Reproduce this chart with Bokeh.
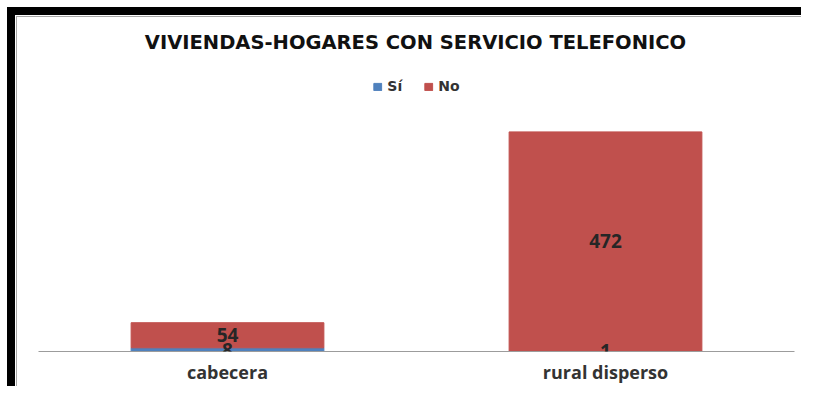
from bokeh.plotting import figure
from bokeh.models import ColumnDataSource, LabelSet, Label, FactorRange, Range1d
from bokeh.embed import file_html
from bokeh.resources import INLINE
from bokeh.core.properties import value

# ---- data ----
categories = ["cabecera", "rural disperso"]
series_names = ["Sí", "No"]
si_values = [8, 1]
no_values = [54, 472]
title_text = "VIVIENDAS-HOGARES CON SERVICIO TELEFONICO"
colors = ["#4F81BD", "#C0504D"]

si_mid = [s / 2 for s in si_values]
no_mid = [s + n / 2 for s, n in zip(si_values, no_values)]

src = ColumnDataSource(dict(
    cat=categories, si=si_values, no=no_values,
    si_mid=si_mid, no_mid=no_mid,
    si_txt=[str(v) for v in si_values], no_txt=[str(v) for v in no_values],
))

FONT = "Open Sans"
TFONT = "DejaVu Sans"
W, H = 801, 386

p = figure(x_range=FactorRange(factors=categories), y_range=Range1d(0, 756),
           width=W, height=H, output_backend="svg", toolbar_location=None,
           y_axis_location=None,
           min_border_left=38, min_border_right=7, min_border_top=0, min_border_bottom=33)

# picture frame (thick black edge top/left + thin grey inner line) painted as CSS
# backgrounds behind a transparent canvas
p.styles = {
    "background": ("linear-gradient(#000,#000) 7px 7px / 100% 8px no-repeat, "
                   "linear-gradient(#000,#000) 7px 7px / 8px 100% no-repeat, "
                   "linear-gradient(#a6a6a6,#a6a6a6) 16px 16px / 100% 1px no-repeat, "
                   "linear-gradient(#a6a6a6,#a6a6a6) 16px 16px / 1px 100% no-repeat, "
                   "#ffffff"),
}
p.background_fill_alpha = 0
p.border_fill_alpha = 0
p.outline_line_color = None
p.xgrid.visible = False
p.ygrid.visible = False

p.vbar_stack(["si", "no"], x="cat", width=0.51, color=colors, source=src,
             legend_label=series_names)

ax = p.xaxis[0]
ax.axis_line_color = "#9c9c9c"
ax.axis_line_width = 1
ax.major_tick_line_color = None
ax.minor_tick_line_color = None
ax.major_tick_out = 0
ax.major_label_standoff = 8
ax.major_label_text_font = FONT
ax.major_label_text_font_style = "bold"
ax.major_label_text_font_size = "18px"
ax.major_label_text_color = "#333333"

for col, txt in (("si_mid", "si_txt"), ("no_mid", "no_txt")):
    p.add_layout(LabelSet(x="cat", y=col, text=txt, source=src,
                          text_align="center", text_baseline="middle",
                          text_font=value(FONT), text_font_size="19px",
                          text_font_style="bold", text_color="#262626"))

p.add_layout(Label(x=377, y=309.5, x_units="screen", y_units="screen", text=title_text,
                   text_align="center", text_baseline="middle",
                   text_font=TFONT, text_font_size="19.5px", text_font_style="bold",
                   text_color="#111111"))

lg = p.legend[0]
lg.location = "top_center"
lg.orientation = "horizontal"
lg.margin = 76
lg.padding = 0
lg.spacing = 16
lg.glyph_width = 10
lg.glyph_height = 9
lg.label_height = 20
lg.label_standoff = 5
lg.label_text_font = TFONT
lg.label_text_font_style = "bold"
lg.label_text_font_size = "14px"
lg.label_text_color = "#333333"
lg.background_fill_alpha = 0
lg.border_line_color = None

open("out.html", "w").write(file_html(p, INLINE))
